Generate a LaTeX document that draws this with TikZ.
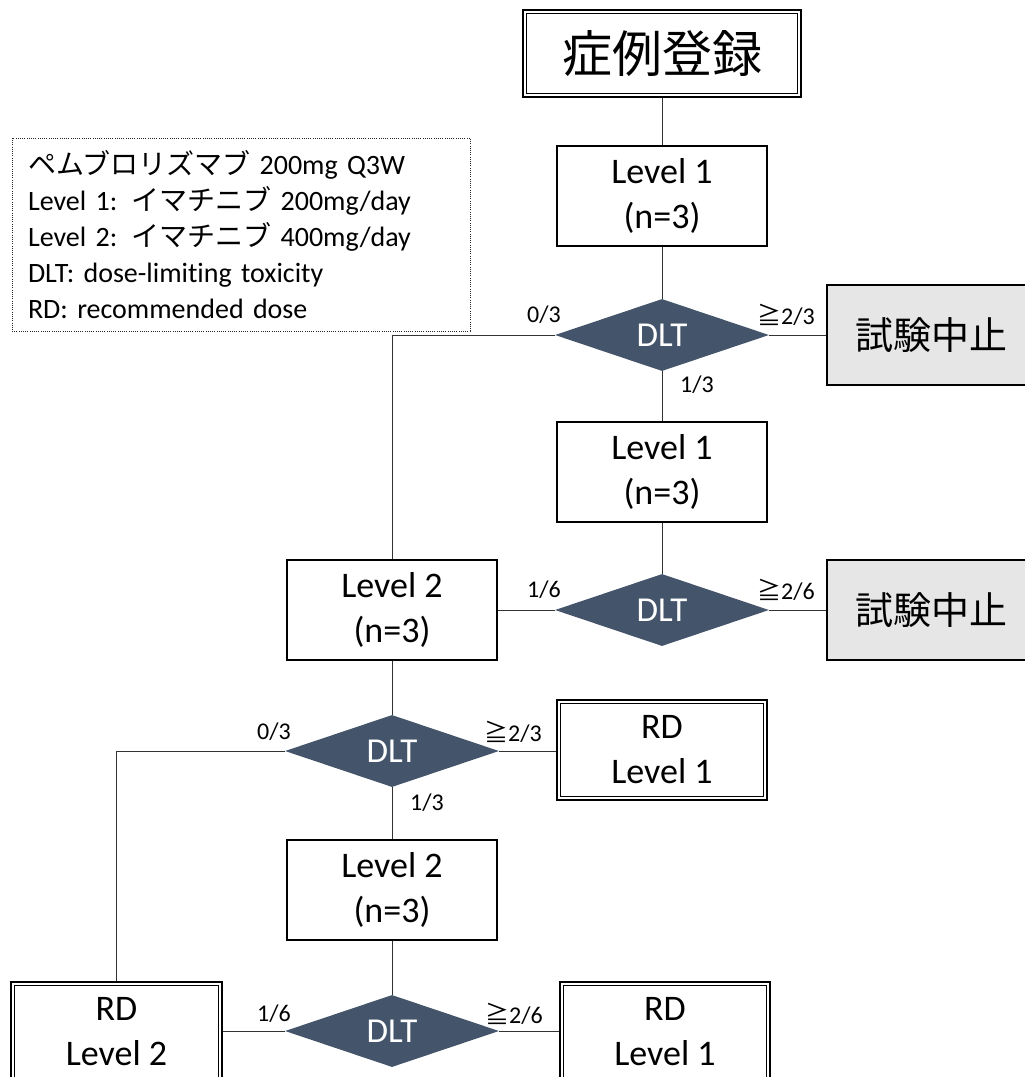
\documentclass[tikz,border=0pt]{standalone}
\usepackage{fontspec}
\setmainfont{Carlito}[Ligatures=NoCommon]
\newfontfamily\jp{Noto Sans CJK JP}
\usetikzlibrary{shapes.geometric}
\definecolor{dltblue}{HTML}{44546A}
\definecolor{stopgray}{HTML}{E7E6E6}
\newcommand\innerframe[1]{\draw[line width=1pt] ([shift={(4.5,4.5)}]#1.north west) rectangle ([shift={(-4.5,-4.5)}]#1.south east);}
\tikzset{
  box/.style={draw=black, line width=1.3pt, minimum width=210pt, minimum height=100pt, inner sep=0pt, align=center, font=\fontsize{36}{45}\selectfont},
  dblbox/.style={box, line width=2.6pt},
  stopbox/.style={box, fill=stopgray, minimum width=208pt, font=\jp\fontsize{38}{45}\selectfont},
  dlt/.style={diamond, aspect=3, fill=dltblue, draw=none, minimum width=214pt, minimum height=72pt, inner sep=0pt, text=white, font=\fontsize{35}{38}\selectfont},
  lab/.style={inner sep=0pt, font=\fontsize{24}{28}\selectfont},
  conn/.style={draw=black!80, line width=1pt},
  legendbox/.style={draw=black!85, line width=1pt, dash pattern=on 1pt off 1.2pt, minimum width=458pt, minimum height=193pt, text width=426pt, inner xsep=16pt, inner ysep=0pt, align=left, font=\fontsize{28}{36}\selectfont}
}
\begin{document}
\begin{tikzpicture}[x=1pt, y=-1pt]
\useasboundingbox (0,0) rectangle (1025,1077);
\clip (0,0) rectangle (1025,1077);
% legend
\node[legendbox] (legend) at (241,234.5) {{\jp ペムブロリズマブ} 200mg Q3W\\Level 1: {\jp イマチニブ} 200mg/day\\Level 2: {\jp イマチニブ} 400mg/day\\DLT: dose-limiting toxicity\\RD: recommended dose};
% nodes
\node[dblbox, minimum width=278pt, minimum height=87pt, font=\jp\fontsize{50}{60}\selectfont] (T) at (662,53.5) {症例登録};
\innerframe{T}
\node[box] (L1a) at (662,196) {Level 1\\(n=3)};
\node[dlt] (D1) at (662,335) {DLT};
\node[stopbox] (S1) at (931,335) {試験中止};
\node[box] (L1b) at (662,472) {Level 1\\(n=3)};
\node[dlt] (D2) at (662,610) {DLT};
\node[stopbox] (S2) at (931,610) {試験中止};
\node[box] (L2a) at (392,610) {Level 2\\(n=3)};
\node[dlt] (D3) at (392,751) {DLT};
\node[dblbox] (R1) at (662,750) {RD\\Level 1};
\innerframe{R1}
\node[box] (L2b) at (392,890) {Level 2\\(n=3)};
\node[dlt] (D4) at (392,1031) {DLT};
\node[dblbox, minimum width=211pt] (R2) at (116.5,1032) {RD\\Level 2};
\innerframe{R2}
\node[dblbox] (R3) at (665,1032) {RD\\Level 1};
\innerframe{R3}
% labels
\node[lab] (a1) at (544,315) {0/3};
\node[lab] (a2) at (786,315) {{\jp ≧}2/3};
\node[lab] (a3) at (697,385) {1/3};
\node[lab] (b1) at (544,590) {1/6};
\node[lab] (b2) at (786,590) {{\jp ≧}2/6};
\node[lab] (c1) at (274,732) {0/3};
\node[lab] (c2) at (513,732) {{\jp ≧}2/3};
\node[lab] (c3) at (427,803) {1/3};
\node[lab] (d1) at (274,1014) {1/6};
\node[lab] (d2) at (514,1014) {{\jp ≧}2/6};
% connectors
\draw[conn] (T) -- (L1a);
\draw[conn] (L1a) -- (D1);
\draw[conn] (D1.west) -| (L2a.north);
\draw[conn] (D1.east) -- (D1.east -| S1.west);
\draw[conn] (D1) -- (L1b);
\draw[conn] (L1b) -- (D2);
\draw[conn] (L2a.east) -- (D2.west);
\draw[conn] (D2.east) -- (D2.east -| S2.west);
\draw[conn] (L2a) -- (D3);
\draw[conn] (D3.west) -| (R2.north);
\draw[conn] (D3.east) -- (D3.east -| R1.west);
\draw[conn] (D3) -- (L2b);
\draw[conn] (L2b) -- (D4);
\draw[conn] (D4.west) -- (D4.west -| R2.east);
\draw[conn] (D4.east) -- (D4.east -| R3.west);
\end{tikzpicture}
\end{document}
